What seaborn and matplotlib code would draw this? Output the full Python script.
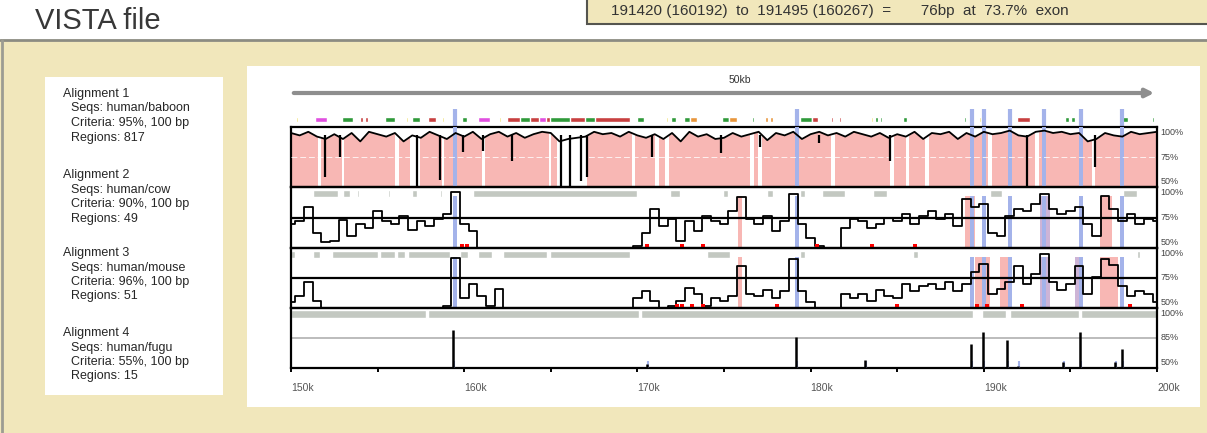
import numpy as np
import pandas as pd
import matplotlib
matplotlib.use("Agg")
import matplotlib.pyplot as plt
import seaborn as sns
from matplotlib.patches import Rectangle
from matplotlib.lines import Line2D

sns.set_style("white")
plt.rcParams['font.family'] = ['Liberation Sans', 'DejaVu Sans']

# ---- data (kb positions, % identity) ----
pos = np.arange(150, 200.01, 0.5)

t1_baboon = [95, 93, 96, 92, 90, 94, 90, 95, 88, 96, 94, 92, 95, 88, 93, 91, 96, 93, 90, 95,
             92, 96, 90, 94, 96, 92, 95, 91, 94, 96, 95, 88, 90, 91, 92, 96, 94, 95, 92, 96,
             93, 91, 94, 90, 95, 88, 96, 92, 94, 90, 91, 95, 92, 94, 96, 89, 95, 93, 96, 90,
             94, 96, 93, 95, 92, 96, 94, 92, 95, 91, 94, 92, 96, 90, 95, 94, 96, 90, 95, 92,
             96, 94, 95, 97, 93, 92, 96, 97, 95, 96, 94, 95, 88, 90, 95, 93, 92, 96, 94, 95, 96]
# narrow dips in the baboon track
t1_dip_pos = [151.96, 152.85, 157.30, 158.60, 159.93, 161.09, 162.76, 165.60, 166.10, 166.75, 167.09,
              170.84, 174.80, 177.08, 180.50, 184.59, 192.49, 196.42]
t1_dip_val = [58, 75, 50, 56, 79, 80, 72, 51, 51, 55, 58, 75, 78, 83, 87, 72, 50, 67]

t2_cow = [70, 72, 84, 62, 55, 56, 73, 60, 70, 66, 80, 72, 70, 76, 65, 72, 68, 74, 78, 96,
          70, 64, 50, 50, 50, 50, 50, 50, 50, 50, 50, 50, 50, 50, 50, 50, 50, 50, 50, 50,
          52, 62, 82, 68, 74, 56, 72, 64, 76, 72, 70, 80, 92, 74, 70, 76, 64, 72, 94, 70,
          58, 52, 50, 50, 66, 74, 72, 66, 70, 75, 72, 78, 70, 76, 80, 74, 78, 68, 90, 84,
          86, 62, 60, 76, 82, 80, 86, 94, 82, 78, 80, 84, 70, 60, 93, 82, 72, 78, 70, 74, 72]

t3_mouse = [55, 60, 72, 56, 50, 50, 50, 50, 50, 50, 50, 50, 50, 50, 50, 50, 50, 50, 52, 92,
            58, 70, 60, 52, 66, 50, 50, 50, 50, 50, 50, 50, 50, 50, 50, 50, 50, 50, 50, 50,
            58, 64, 56, 50, 52, 56, 67, 62, 52, 58, 56, 60, 85, 62, 60, 65, 58, 64, 91, 64,
            55, 50, 50, 50, 62, 58, 62, 56, 65, 60, 58, 70, 64, 68, 70, 66, 72, 64, 70, 80,
            87, 62, 66, 72, 85, 70, 78, 95, 72, 65, 70, 85, 62, 76, 91, 86, 68, 60, 64, 62, 55]

t4_peak_pos = [159.35, 170.55, 179.16, 183.14, 189.26, 189.95, 191.34, 191.98, 194.57, 195.56, 197.58, 197.98]
t4_peak_val = [82, 53, 76, 57, 70, 80, 73, 52, 55, 80, 55, 66]

exons = [159.47, 179.21, 189.3, 190.0, 191.5, 193.5, 195.6, 198.0]

t1_gaps = [(151.58, 151.76), (152.92, 153.08), (156.03, 156.21), (156.87, 157.45), (158.70, 158.86),
           (161.00, 161.18), (164.87, 165.03), (165.36, 167.09), (169.66, 169.84), (171.04, 171.22),
           (171.62, 171.80), (176.53, 176.71), (176.99, 177.17), (181.20, 181.38), (184.61, 184.79),
           (185.53, 185.71), (186.63, 186.81), (190.27, 190.45), (192.98, 193.16), (196.22, 196.40)]

t2_bars = [(151.27, 152.71), (153.00, 153.41), (153.81, 153.93), (155.60, 155.72), (156.99, 157.27),
           (158.60, 158.72), (160.51, 169.98), (171.88, 172.46), (174.94, 175.23), (177.48, 177.83),
           (179.39, 179.68), (180.66, 181.99), (183.60, 184.41), (190.36, 191.05), (198.04, 198.85)]
t3_bars = [(150.0, 150.23), (151.27, 151.67), (152.37, 155.02), (155.14, 156.00), (156.12, 156.58),
           (156.76, 159.18), (159.76, 160.22), (160.80, 161.61), (162.24, 164.78), (164.95, 169.57),
           (174.02, 175.35), (179.39, 179.68), (185.91, 186.20), (198.85, 199.02)]
t4_bars = [(150.0, 157.8), (157.9, 170.1), (170.2, 189.4), (189.9, 191.3), (191.5, 195.5), (195.6, 200.0)]

t2_cns = [(175.80, 176.05, 'pink'), (188.92, 189.49, 'pink'), (193.25, 193.82, 'lilac'), (196.71, 197.40, 'pink')]
t3_cns = [(175.80, 176.05, 'pink'), (189.49, 190.36, 'pink'), (190.94, 191.51, 'pink'),
          (193.25, 193.82, 'lilac'), (195.27, 195.73, 'lilac'), (196.71, 197.75, 'pink')]

t2_red = [159.87, 160.16, 170.55, 172.58, 173.79, 180.37, 183.55, 186.03]
t3_red = [172.29, 172.58, 173.15, 173.79, 178.06, 184.99, 189.61, 190.19, 192.21, 198.44]

annot_start = [150.30, 151.39, 152.94, 153.98, 154.28, 155.43, 156.65, 156.99, 157.91, 158.72, 159.87,
               160.80, 162.02, 162.47, 163.2, 164.3, 164.95, 167.0, 169.98, 171.65, 171.95, 172.69,
               173.04, 174.88, 175.30, 176.62, 177.37, 177.65, 179.39, 180.08, 181.18, 181.64,
               183.50, 183.72, 184.00, 185.34, 188.88, 189.75, 191.92, 194.69, 195.05, 197.98, 199.72]
annot_end = [150.42, 152.08, 153.58, 154.18, 154.45, 156.00, 156.75, 157.45, 158.37, 158.85, 160.16,
             161.49, 162.12, 169.57, 163.8, 164.7, 166.1, 167.55, 170.40, 171.75, 172.20, 173.04,
             173.44, 175.30, 175.75, 176.75, 177.55, 177.83, 180.08, 180.43, 181.30, 181.76,
             183.60, 183.90, 184.12, 185.57, 188.98, 189.85, 192.67, 194.90, 195.27, 198.33, 199.85]
annot_kind = ['y', 'm', 'g', 'r', 'r', 'g', 'y', 'g', 'r', 'y', 'g',
              'm', 'y', 'r', 'g', 'm', 'g', 'g', 'g', 'y', 'g', 'g',
              'o', 'g', 'o', 'g', 'o', 'o', 'g', 'r', 'r', 'r',
              'y', 'g', 'g', 'g', 'g', 'y', 'r', 'g', 'g', 'g', 'g']

tick_pos = [150, 160, 170, 180, 190, 200]
tick_labels = ['150k', '160k', '170k', '180k', '190k', '200k']

align_titles = ['Alignment 1', 'Alignment 2', 'Alignment 3', 'Alignment 4']
align_seqs = ['human/baboon', 'human/cow', 'human/mouse', 'human/fugu']
align_criteria = ['95%', '90%', '96%', '55%']
align_regions = ['817', '49', '51', '15']
right_labels = [['100%', '75%', '50%'], ['100%', '75%', '50%'], ['100%', '75%', '50%'], ['100%', '85%', '50%']]

# ---- colours ----
TAN = '#f1e7bb'
PINK = '#f8b7b4'
BLUE = '#a4b3ea'
LILAC = '#cdb4d6'
GRAYBAR = '#c3c8c1'
KIND = {'y': '#f0e070', 'm': '#e050e0', 'g': '#2f9a3a', 'r': '#c84040', 'o': '#e8963c'}
CNS = {'pink': PINK, 'lilac': LILAC}

W, H = 1207, 433


def box(x0, y0, x1, y1):
    return [x0 / W, 1 - y1 / H, (x1 - x0) / W, (y1 - y0) / H]


fig = plt.figure(figsize=(W / 100, H / 100), dpi=100)
bg = [Rectangle((0, 0), 1, 1 - 40 / H, fc=TAN, ec='none'),
      Rectangle((587 / W, 1 - 24 / H), 1, 40 / H, fc=TAN, ec='#55554f', lw=1.5),
      Rectangle((45 / W, 1 - 395 / H), 178 / W, 318 / H, fc='white', ec='none'),
      Rectangle((247 / W, 1 - 407 / H), 953 / W, 341 / H, fc='white', ec='none')]
for p in bg:
    p.set_transform(fig.transFigure)
    p.set_zorder(-5)
    fig.patches.append(p)
fig.add_artist(Line2D([0, 1], [1 - 40 / H] * 2, color='#8c8c82', lw=2, zorder=-4))
fig.add_artist(Line2D([1.5 / W] * 2, [0, 1 - 40 / H], color='#9c9c92', lw=2, zorder=-4))

fig.text(35 / W, 1 - 21 / H, 'VISTA file', fontsize=21, color='#383838', va='center')
fig.text(611 / W, 1 - 11 / H, '191420 (160192)  to  191495 (160267)  =       76bp  at  73.7%  exon',
         fontsize=11, color='#333333', va='center')

row_y = [94, 175, 253, 333]
for i in range(4):
    y = row_y[i]
    fig.text(63 / W, 1 - y / H, align_titles[i], fontsize=9, va='center')
    fig.text(71 / W, 1 - (y + 14.5) / H, 'Seqs: ' + align_seqs[i], fontsize=9, va='center')
    fig.text(71 / W, 1 - (y + 29) / H, 'Criteria: ' + align_criteria[i] + ', 100 bp', fontsize=9, va='center')
    fig.text(71 / W, 1 - (y + 43.5) / H, 'Regions: ' + align_regions[i], fontsize=9, va='center')

# header: arrow + annotation boxes
hx = fig.add_axes(box(291, 70, 1157, 127))
hx.set_xlim(150, 200)
hx.set_ylim(127, 70)
hx.axis('off')
hx.annotate('', xy=(200, 93), xytext=(150, 93),
            arrowprops=dict(arrowstyle='-|>', color='#8e8e8e', lw=3, mutation_scale=12))
hx.text(175.9, 80, '50kb', fontsize=7.5, ha='center', va='center', color='#333333')
hx.broken_barh([(s, e - s) for s, e in zip(annot_start, annot_end)], (116.5, 5.5),
               facecolors=[KIND[k] for k in annot_kind])
hx.vlines(exons, 109, 127, color=BLUE, lw=3)

track_y = [(127, 187), (187, 248), (248, 308), (308, 368)]
axes = []
for y0, y1 in track_y:
    ax = fig.add_axes(box(291, y0, 1157, y1))
    ax.set_xlim(150, 200)
    ax.set_ylim(50, 100)
    ax.set_xticks([])
    ax.set_yticks([])
    for sp in ax.spines.values():
        sp.set_color('black')
        sp.set_linewidth(1.6)
    ax.patch.set_alpha(0)
    axes.append(ax)

# track 1
ax = axes[0]
ax.fill_between(pos, 50, t1_baboon, color=PINK, lw=0, zorder=1)
for s, e in t1_gaps:
    ax.axvspan(s, e, color='white', lw=0, zorder=2)
for c in exons:
    ax.axvspan(c - 0.12, c + 0.12, color=BLUE, lw=0, zorder=3)
ax.axhline(75, color='white', lw=0.7, alpha=0.8, ls=(0, (6, 3)), zorder=3)
sns.lineplot(x=pos, y=t1_baboon, color='black', lw=1.3, ax=ax, zorder=4)
ax.vlines(t1_dip_pos, t1_dip_val, 93, color='black', lw=1.6, zorder=4)

# tracks 2 and 3
for ax, vals, bars, cns, red in [(axes[1], t2_cow, t2_bars, t2_cns, t2_red),
                                 (axes[2], t3_mouse, t3_bars, t3_cns, t3_red)]:
    ax.broken_barh([(s, e - s) for s, e in bars], (92, 5.5), facecolors=GRAYBAR, zorder=1)
    for s, e, kind in cns:
        ax.axvspan(s, e, ymax=0.85, color=CNS[kind], lw=0, zorder=1)
    for c in exons:
        ax.axvspan(c - 0.12, c + 0.12, ymax=0.85, color=BLUE, lw=0, zorder=1)
    ax.axhline(75, color='black', lw=1.6, zorder=3)
    sns.lineplot(x=pos, y=vals, color='black', lw=1.3, drawstyle='steps-mid', ax=ax, zorder=4)
    ax.scatter(red, [51.5] * len(red), marker='s', s=7, color='red', lw=0, zorder=5, clip_on=False)

# track 4
ax = axes[3]
ax.broken_barh([(s, e - s) for s, e in t4_bars], (91.5, 7), facecolors=GRAYBAR, zorder=1)
ax.axhline(75, color='#b0b0b0', lw=1.2, zorder=2)
ax.vlines(t4_peak_pos, 50, t4_peak_val, color='black', lw=1.8, zorder=4)
ax.vlines([p + 0.08 for p in t4_peak_pos], 50, 56, color=BLUE, lw=1.5, zorder=3)

for ax in axes:
    ax.set_xlabel('')
    ax.set_ylabel('')
    ax.set_xlim(150, 200)
    ax.set_ylim(50, 100)

ax = axes[3]
ax.set_xticks(tick_pos)
ax.set_xticks([155, 165, 175, 185, 195], minor=True)
ax.set_xticklabels(tick_labels, ha='left', fontsize=7.5, color='#555555')
ax.tick_params(axis='x', which='both', direction='out', length=3, width=1.4, color='black', pad=8, bottom=True)

for ax, labs in zip(axes, right_labels):
    tr = ax.get_yaxis_transform()
    ax.text(1.004, 99, labs[0], transform=tr, fontsize=6.5, va='top', color='#444444')
    ax.text(1.004, 75, labs[1], transform=tr, fontsize=6.5, va='center', color='#444444')
    ax.text(1.004, 51, labs[2], transform=tr, fontsize=6.5, va='bottom', color='#444444')

fig.savefig('out.png', dpi=100)
